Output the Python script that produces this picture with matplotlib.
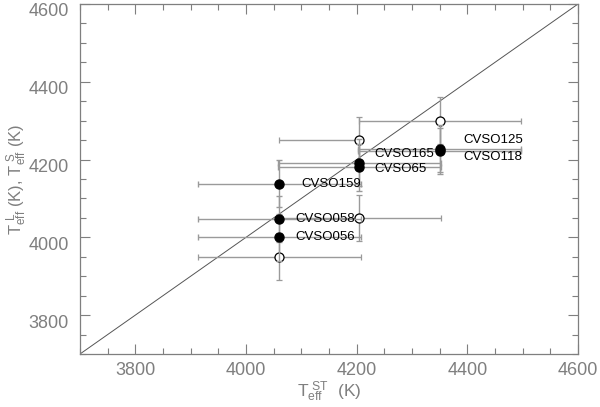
"""
Temperature comparison: T_eff from spectral type vs line-ratio / spectral fit.
"""
import matplotlib
matplotlib.use('Agg')
import matplotlib.pyplot as plt
import matplotlib.transforms as mtransforms
from matplotlib.ticker import MultipleLocator

plt.rcParams['font.family'] = ['Liberation Sans', 'DejaVu Sans']
plt.rcParams['mathtext.fontset'] = 'custom'
plt.rcParams['mathtext.rm'] = 'Liberation Sans'

# --- Data ---
starNames = ['CVSO056', 'CVSO058', 'CVSO159', 'CVSO165', 'CVSO65', 'CVSO125', 'CVSO118']
teffST = [4060, 4060, 4060, 4205, 4205, 4350, 4350]
teffL = [4000, 4047, 4138, 4192, 4180, 4228, 4222]
errL = [60, 60, 60, 60, 60, 60, 60]

teffSTopen = [4060, 4205, 4205, 4350]
teffS = [3950, 4250, 4050, 4300]
errS = [60, 60, 60, 60]
xerrLo = [147, 145, 147, 145]
xerrHi = [147, 0, 147, 147]
xerrST = 147

# label offsets in points (dx, dy)
labelOffsets = [(12, 0), (12, 0), (16, 0), (11, 6), (11, -1), (17, 6), (17, -4)]

axisColor = '#7f7f7f'
barColor = '#9a9a9a'

fig = plt.figure(figsize=(6.0, 4.07), dpi=100)
ax = fig.add_axes([80/600, 53/407, 498/600, 350/407])

ax.plot([3700, 4600], [3700, 4600], color='#555555', lw=0.7, zorder=1)

ax.errorbar(teffSTopen, teffS, xerr=[xerrLo, xerrHi], yerr=errS, fmt='o',
            mfc='white', mec='black', mew=0.9, ms=6.5, ecolor=barColor,
            elinewidth=1.0, capsize=2.5, capthick=1.0, zorder=3)
ax.errorbar(teffST, teffL, xerr=xerrST, yerr=errL, fmt='o',
            mfc='black', mec='black', ms=6.5, ecolor=barColor,
            elinewidth=1.0, capsize=2.5, capthick=1.0, zorder=4)

for name, x, y, off in zip(starNames, teffST, teffL, labelOffsets):
    ax.annotate(name, xy=(x, y), xytext=off, textcoords='offset points',
                ha='left', va='center', fontsize=9.5, color='black', zorder=5)

ax.set_xlim(3700, 4600)
ax.set_ylim(3700, 4600)
ax.xaxis.set_major_locator(MultipleLocator(200))
ax.xaxis.set_minor_locator(MultipleLocator(50))
ax.yaxis.set_major_locator(MultipleLocator(200))
ax.yaxis.set_minor_locator(MultipleLocator(50))
ax.tick_params(which='both', direction='in', top=True, right=True,
               color=axisColor, labelcolor=axisColor, labelsize=13)
ax.tick_params(axis='x', pad=6)
ax.tick_params(axis='y', pad=8)
ax.tick_params(which='major', length=7, width=0.8)
ax.tick_params(which='minor', length=4, width=0.8)
for sp in ax.spines.values():
    sp.set_color(axisColor)
    sp.set_linewidth(0.9)

# y tick labels sit a little below their ticks in the original
shiftDown = mtransforms.ScaledTranslation(0, -6/100, fig.dpi_scale_trans)
for lab in ax.get_yticklabels():
    lab.set_transform(lab.get_transform() + shiftDown)

ax.set_xlabel(r'$\mathregular{T_{eff}^{\ ST}}$  (K)', fontsize=12.5,
              color=axisColor, labelpad=0)
ax.set_ylabel(r'$\mathregular{T_{eff}^{\ L}}$ (K), $\mathregular{T_{eff}^{\ S}}$ (K)',
              fontsize=12, color=axisColor)
ax.yaxis.set_label_coords(-0.103, 0.5)

fig.savefig('out.png', dpi=100)
